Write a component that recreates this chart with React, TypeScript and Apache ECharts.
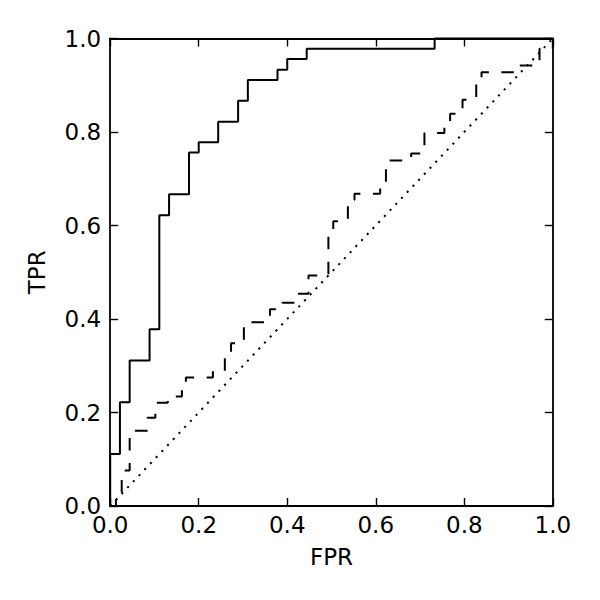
import React, { useEffect, useRef } from "react";
import * as echarts from "echarts";

// Axis ticks
const xTicks = [0, 0.2, 0.4, 0.6, 0.8, 1.0];
const yTicks = [0, 0.2, 0.4, 0.6, 0.8, 1.0];

// Solid ROC curve (step points)
const solidFpr = [0, 0, 0.022, 0.044, 0.089, 0.111, 0.133, 0.178, 0.2, 0.244, 0.289, 0.311, 0.378, 0.4, 0.444, 0.733, 1.0];
const solidTpr = [0, 0.111, 0.222, 0.311, 0.378, 0.622, 0.667, 0.756, 0.778, 0.822, 0.867, 0.911, 0.933, 0.956, 0.978, 1.0, 1.0];

// Dashed ROC curve (step points)
const dashedFpr = [0, 0.013, 0.026, 0.044, 0.084, 0.102, 0.13, 0.162, 0.171, 0.232, 0.259, 0.273, 0.302, 0.361, 0.389, 0.422, 0.448, 0.493, 0.504, 0.537, 0.552, 0.61, 0.623, 0.68, 0.71, 0.755, 0.768, 0.796, 0.827, 0.839, 0.917, 0.97, 1.0];
const dashedTpr = [0, 0.02, 0.076, 0.161, 0.189, 0.221, 0.234, 0.257, 0.275, 0.289, 0.323, 0.348, 0.393, 0.421, 0.435, 0.454, 0.493, 0.587, 0.609, 0.655, 0.668, 0.688, 0.739, 0.754, 0.798, 0.818, 0.839, 0.869, 0.908, 0.928, 0.942, 0.978, 1.0];

// Chance diagonal
const chanceFpr = [0, 1];
const chanceTpr = [0, 1];

const FONT = "DejaVu Sans";
const FS = 23;

const zip = (xs: number[], ys: number[]) => xs.map((x, i) => [x, ys[i]]);

export default function App() {
  const ref = useRef<HTMLDivElement>(null);
  useEffect(() => {
    if (!ref.current) return;
    const chart = echarts.init(ref.current, undefined, { renderer: "svg" });
    const tickStyle = { show: true, inside: true, length: 8, lineStyle: { color: "#000", width: 1.4 } };
    const lineStyle = { show: true, onZero: false, lineStyle: { color: "#000", width: 1.8 } };
    const baseX = {
      type: "value" as const,
      min: xTicks[0],
      max: xTicks[xTicks.length - 1],
      interval: 0.2,
      splitLine: { show: false },
      axisLine: lineStyle,
      axisTick: tickStyle,
    };
    const baseY = {
      type: "value" as const,
      min: yTicks[0],
      max: yTicks[yTicks.length - 1],
      interval: 0.2,
      splitLine: { show: false },
      axisLine: lineStyle,
      axisTick: tickStyle,
    };
    chart.setOption({
      animation: false,
      backgroundColor: "#fff",
      grid: {
        left: 110.2,
        top: 38.5,
        width: 442.6,
        height: 467.5,
        containLabel: false,
        outerBoundsMode: "none",
      },
      xAxis: [
        {
          ...baseX,
          position: "bottom",
          name: "FPR",
          nameLocation: "middle",
          nameGap: 39,
          nameTextStyle: { fontFamily: FONT, fontSize: FS, color: "#000" },
          axisLabel: {
            show: true,
            margin: 7,
            fontFamily: FONT,
            fontSize: FS,
            color: "#000",
            formatter: (v: number) => v.toFixed(1),
          },
        },
        { ...baseX, position: "top", axisLabel: { show: false } },
      ],
      yAxis: [
        {
          ...baseY,
          position: "left",
          name: "TPR",
          nameLocation: "middle",
          nameGap: 62,
          nameTextStyle: { fontFamily: FONT, fontSize: FS, color: "#000" },
          axisLabel: {
            show: true,
            margin: 9,
            fontFamily: FONT,
            fontSize: FS,
            color: "#000",
            formatter: (v: number) => v.toFixed(1),
          },
        },
        { ...baseY, position: "right", axisLabel: { show: false } },
      ],
      series: [
        {
          type: "line",
          step: "end",
          data: zip(solidFpr, solidTpr),
          showSymbol: false,
          clip: false,
          lineStyle: { color: "#000", width: 2 },
        },
        {
          type: "line",
          step: "end",
          data: zip(dashedFpr, dashedTpr),
          showSymbol: false,
          clip: false,
          lineStyle: { color: "#000", width: 2, type: [12.5, 12.5] },
        },
        {
          type: "line",
          data: zip(chanceFpr, chanceTpr),
          showSymbol: false,
          clip: false,
          lineStyle: { color: "#000", width: 2, type: [2.1, 6.2] },
        },
      ],
    });
    return () => chart.dispose();
  }, []);
  return (
    <div
      ref={ref}
      style={{ position: "absolute", left: 0, top: 0, width: 600, height: 600, background: "#fff" }}
    />
  );
}
